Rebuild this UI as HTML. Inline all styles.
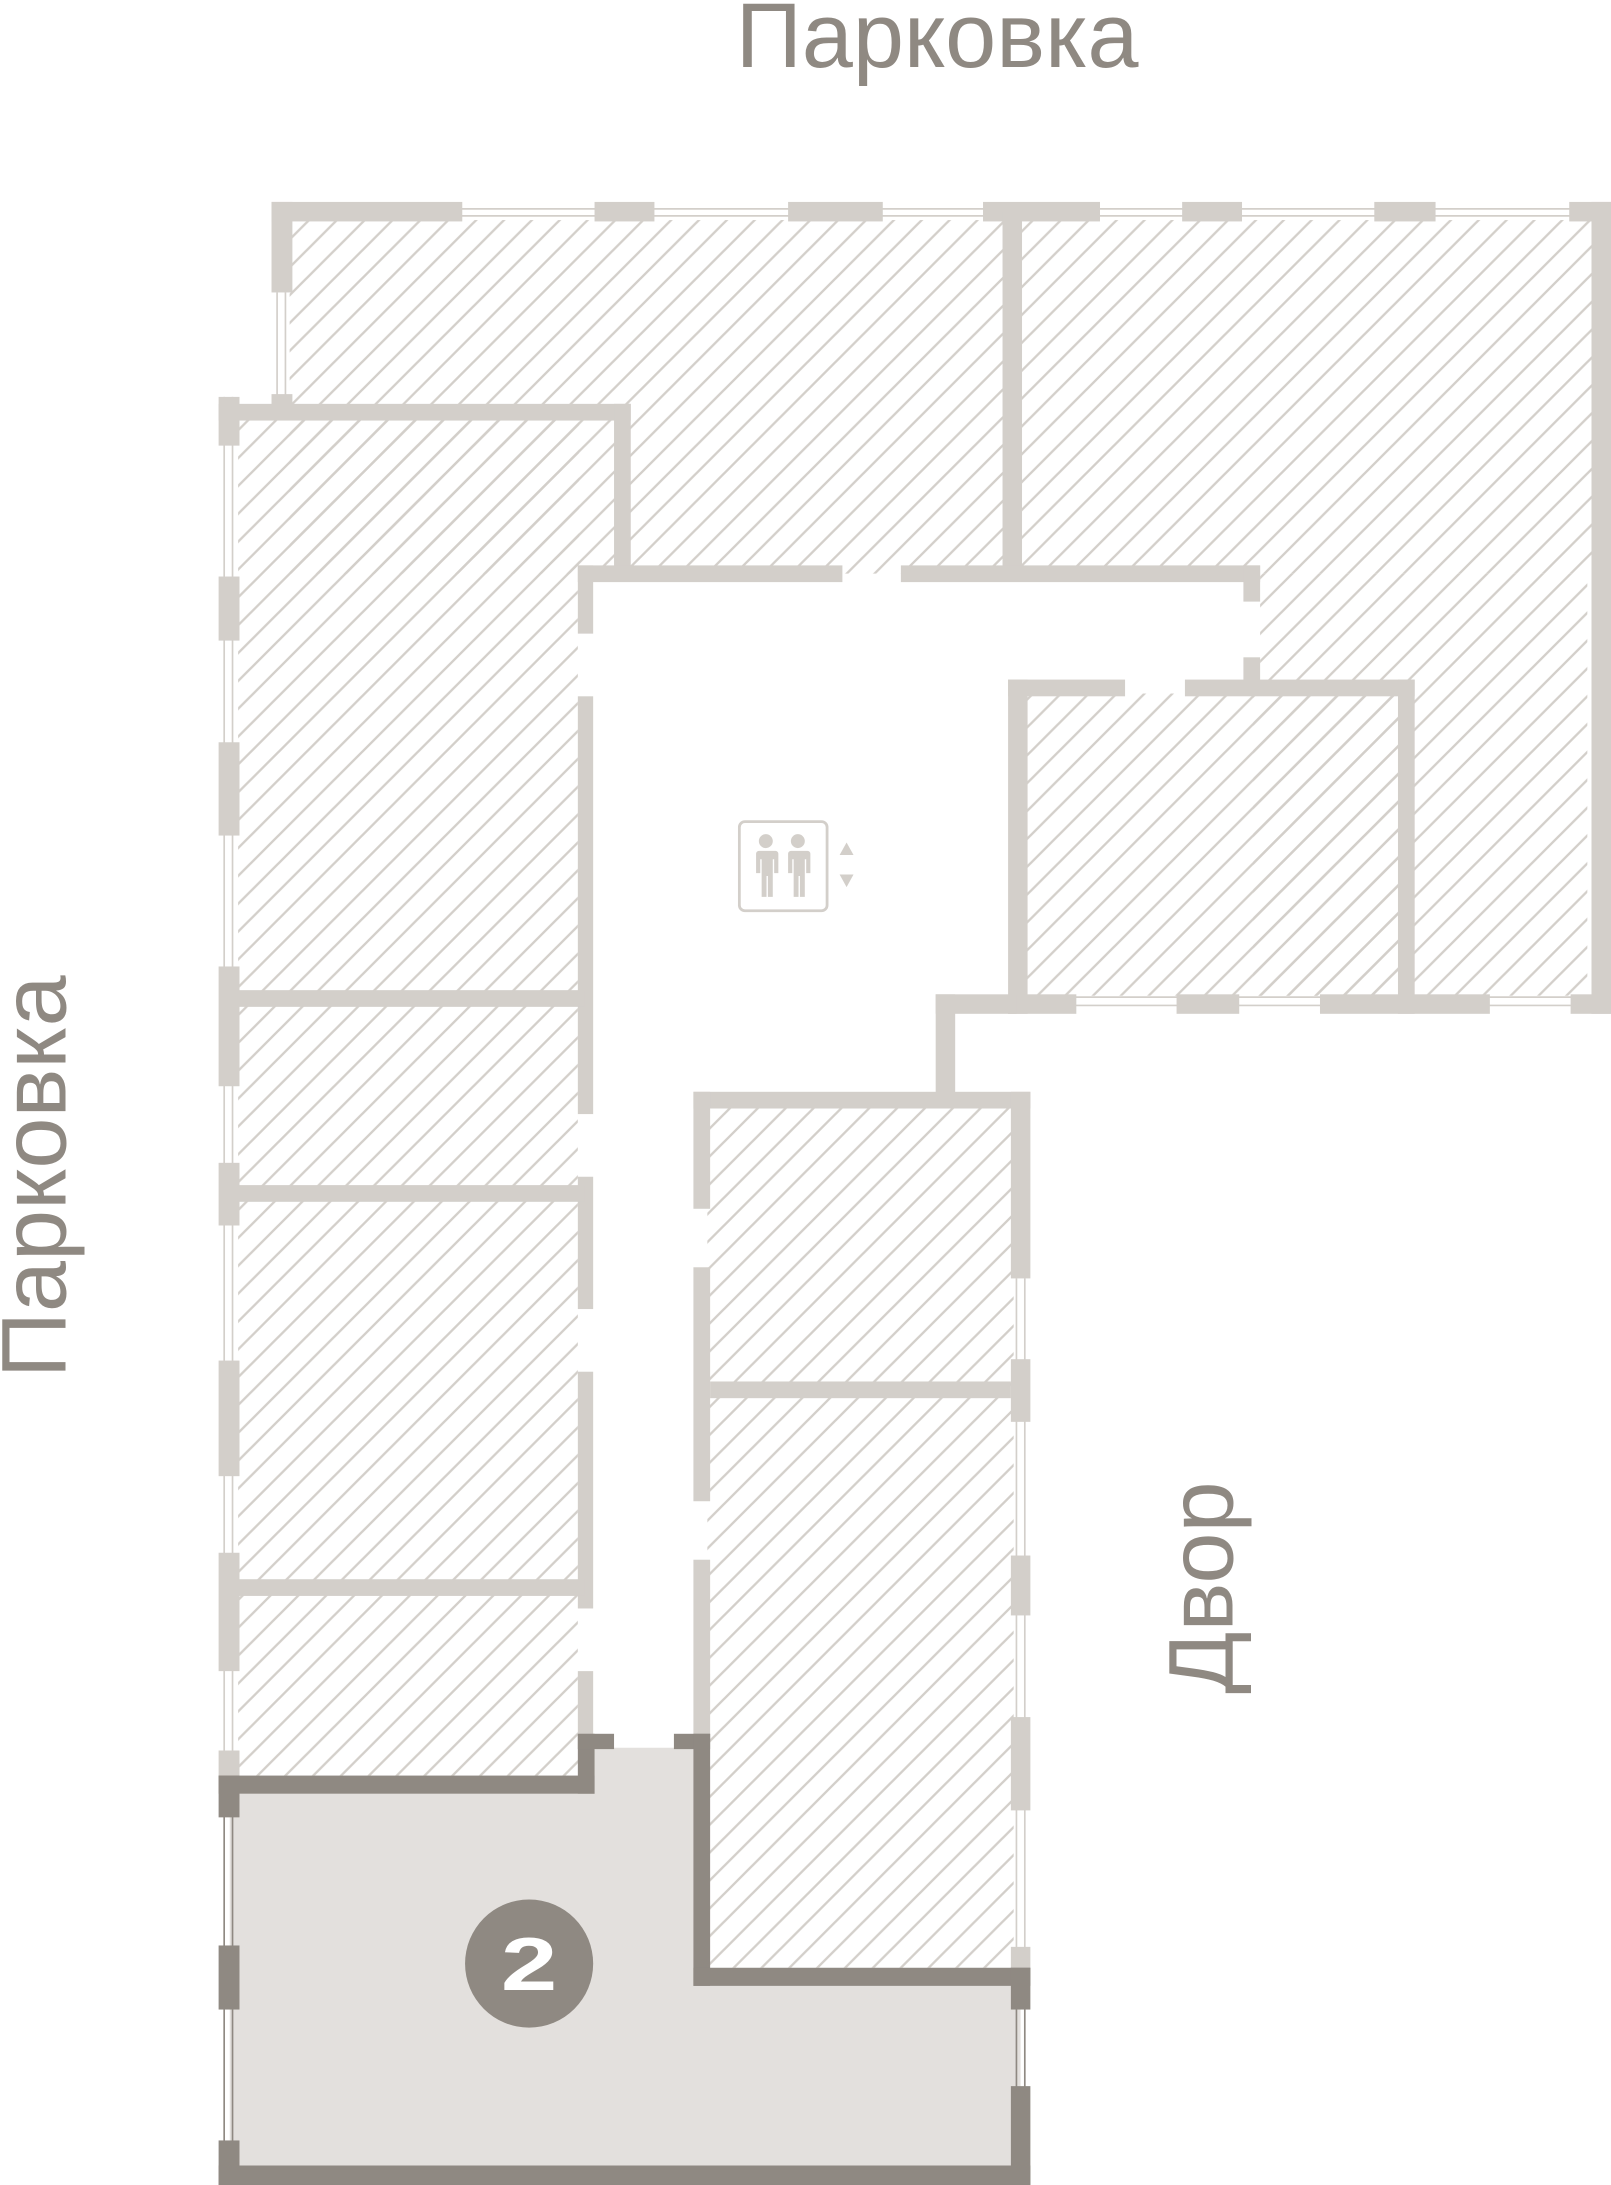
<!DOCTYPE html>
<html><head><meta charset="utf-8"><style>
html,body{margin:0;padding:0;background:#fff;}
svg{display:block;}
text{font-family:"Liberation Sans",sans-serif;fill:#8f8982;}
</style></head><body>
<svg width="1611" height="2185" viewBox="0 0 1157 1569" preserveAspectRatio="none" xmlns="http://www.w3.org/2000/svg">
<defs>
<pattern id="h" width="20" height="20" patternUnits="userSpaceOnUse">
<path d="M-5,5 L5,-5 M0,20 L20,0 M15,25 L25,15" stroke="#d3cfca" stroke-width="1.7"/>
</pattern>
</defs>
<g fill="url(#h)">
<rect x="208" y="158" width="937" height="254"/>
<rect x="900" y="412" width="240" height="303"/>
<rect x="736" y="498" width="270" height="217"/>
<rect x="171" y="300" width="245" height="975"/>
<rect x="508" y="795" width="220" height="618"/>
</g>
<polygon fill="#fff" points="415,412 905,412 905,493 730,493 730,720 680,720 680,790 503,790 503,1255 415,1255"/>
<polygon fill="#e3e0dd" points="165,1282 421,1282 421,1255 503,1255 503,1420 733,1420 733,1560 165,1560"/>

<g stroke="#d3cfca" stroke-width="1.2" fill="none">
<path d="M195,150 H1157 M195,155 H1157"/>
<path d="M199,210 V290 M205,210 V290"/>
<path d="M161,285 V1275 M167,285 V1275"/>
<path d="M724,716 H1157 M724,722 H1157"/>
<path d="M730,918 V1413 M736,918 V1413"/>
</g>
<g stroke="#8f8982" stroke-width="1.2" fill="none">
<path d="M161,1288 V1555 M167,1288 V1555"/>
<path d="M730,1426 V1500 M736,1426 V1500"/>
</g>

<g fill="#d3cfca">
<rect x="195" y="145" width="137" height="14"/>
<rect x="427" y="145" width="43" height="14"/>
<rect x="566" y="145" width="68" height="14"/>
<rect x="706" y="145" width="84" height="14"/>
<rect x="849" y="145" width="43" height="14"/>
<rect x="987" y="145" width="44" height="14"/>
<rect x="1127" y="145" width="30" height="14"/>
<rect x="195" y="145" width="15" height="65"/>
<rect x="195" y="283" width="15" height="10"/>
<rect x="157" y="290" width="296" height="12"/>
<rect x="157" y="285" width="15" height="35"/>
<rect x="441" y="290" width="12" height="122"/>
<rect x="720" y="152" width="14" height="260"/>
<rect x="415" y="406" width="190" height="12"/>
<rect x="647" y="406" width="258" height="12"/>
<rect x="893" y="406" width="12" height="26"/>
<rect x="893" y="472" width="12" height="21"/>
<rect x="724" y="488" width="84" height="12"/>
<rect x="851" y="488" width="165" height="12"/>
<rect x="724" y="488" width="14" height="240"/>
<rect x="1004" y="488" width="12" height="240"/>
<rect x="1143" y="145" width="14" height="583"/>
<rect x="724" y="714" width="49" height="14"/>
<rect x="845" y="714" width="45" height="14"/>
<rect x="948" y="714" width="122" height="14"/>
<rect x="1128" y="714" width="29" height="14"/>
<rect x="415" y="406" width="11" height="49"/>
<rect x="415" y="500" width="11" height="300"/>
<rect x="415" y="845" width="11" height="95"/>
<rect x="415" y="985" width="11" height="170"/>
<rect x="415" y="1200" width="11" height="45"/>
<rect x="165" y="711" width="255" height="12"/>
<rect x="165" y="851" width="255" height="12"/>
<rect x="165" y="1134" width="255" height="12"/>
<rect x="157" y="414" width="15" height="46"/>
<rect x="157" y="533" width="15" height="67"/>
<rect x="157" y="694" width="15" height="86"/>
<rect x="157" y="835" width="15" height="45"/>
<rect x="157" y="977" width="15" height="83"/>
<rect x="157" y="1115" width="15" height="85"/>
<rect x="157" y="1257" width="15" height="20"/>
<rect x="672" y="714" width="58" height="14"/>
<rect x="672" y="714" width="14" height="76"/>
<rect x="498" y="784" width="242" height="12"/>
<rect x="498" y="784" width="12" height="84"/>
<rect x="498" y="910" width="12" height="168"/>
<rect x="498" y="1120" width="12" height="130"/>
<rect x="726" y="784" width="14" height="134"/>
<rect x="726" y="976" width="14" height="45"/>
<rect x="726" y="1117" width="14" height="43"/>
<rect x="726" y="1233" width="14" height="67"/>
<rect x="726" y="1398" width="14" height="16"/>
<rect x="510" y="992" width="216" height="12"/>
</g>

<g fill="#d3cfca">
<rect x="531" y="590" width="63" height="64" rx="4" fill="none" stroke="#d3cfca" stroke-width="2"/>
<circle cx="550" cy="604" r="5"/>
<path d="M543,611 h14 a2,2 0 0 1 2,2 v14 h-3 v-10 h-1 v27 h-3.5 v-15 h-1 v15 h-3.5 v-27 h-1 v10 h-3 v-14 a2,2 0 0 1 2,-2z"/>
<circle cx="573" cy="604" r="5"/>
<path d="M566,611 h14 a2,2 0 0 1 2,2 v14 h-3 v-10 h-1 v27 h-3.5 v-15 h-1 v15 h-3.5 v-27 h-1 v10 h-3 v-14 a2,2 0 0 1 2,-2z"/>
<polygon points="603,614 608,605 613,614"/>
<polygon points="603,628 613,628 608,637"/>
</g>

<g fill="#8f8982">
<rect x="157" y="1275" width="270" height="13"/>
<rect x="415" y="1245" width="12" height="43"/>
<rect x="415" y="1245" width="26" height="11"/>
<rect x="484" y="1245" width="26" height="11"/>
<rect x="498" y="1245" width="12" height="181"/>
<rect x="498" y="1413" width="242" height="13"/>
<rect x="726" y="1413" width="14" height="30"/>
<rect x="726" y="1498" width="14" height="71"/>
<rect x="157" y="1555" width="583" height="14"/>
<rect x="157" y="1275" width="15" height="30"/>
<rect x="157" y="1397" width="15" height="46"/>
<rect x="157" y="1537" width="15" height="32"/>
</g>
<circle cx="380" cy="1410" r="46" fill="#8f8982"/>
<text x="380" y="1429" text-anchor="middle" font-size="54" font-weight="bold" style="fill:#fff" transform="translate(380 0) scale(1.35 1) translate(-380 0)">2</text>

<text x="673" y="48" text-anchor="middle" font-size="66">Парковка</text>
<text transform="translate(47 845) rotate(-90)" text-anchor="middle" font-size="66">Парковка</text>
<text transform="translate(885 1140) rotate(-90)" text-anchor="middle" font-size="66">Двор</text>
</svg>
</body></html>
